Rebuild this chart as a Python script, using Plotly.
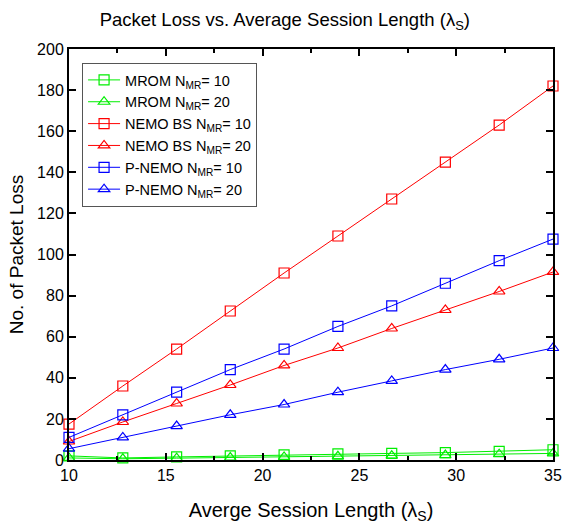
import plotly.graph_objects as go

x_vals = [10, 12.78, 15.56, 18.33, 21.11, 23.89, 26.67, 29.44, 32.22, 35]
mrom_10 = [2, 1, 1.5, 2, 2.5, 3, 3.2, 3.6, 4.2, 5]
mrom_20 = [1, 0.6, 0.9, 1.2, 1.5, 1.8, 2.1, 2.4, 2.8, 3.2]
nemo_10 = [17.5, 36, 54, 72.5, 91, 109, 127, 145, 163, 182]
nemo_20 = [9, 18.5, 27.5, 36.5, 46, 54.5, 64, 73, 82, 91.5]
pnemo_10 = [11, 22, 33, 44, 54, 65, 75, 86, 97, 107.5]
pnemo_20 = [5.5, 11, 16.5, 22, 27, 33, 38.5, 44, 49, 54.5]

series = [
    ("MROM N<sub>MR</sub>= 10", mrom_10, "#00ee00", "square-open"),
    ("MROM N<sub>MR</sub>= 20", mrom_20, "#00ee00", "triangle-up-open"),
    ("NEMO BS N<sub>MR</sub>= 10", nemo_10, "#ff0000", "square-open"),
    ("NEMO BS N<sub>MR</sub>= 20", nemo_20, "#ff0000", "triangle-up-open"),
    ("P-NEMO N<sub>MR</sub>= 10", pnemo_10, "#0000ff", "square-open"),
    ("P-NEMO N<sub>MR</sub>= 20", pnemo_20, "#0000ff", "triangle-up-open"),
]

fig = go.Figure()
for name, ys, color, sym in series:
    fig.add_trace(go.Scatter(
        x=x_vals, y=ys, name=name, mode="lines+markers",
        line=dict(color=color, width=1),
        marker=dict(symbol=sym, size=10, color=color, line=dict(width=1.2, color=color)),
        cliponaxis=False,
    ))

font = "Liberation Sans, Arial, sans-serif"
fig.update_layout(
    width=564, height=525,
    margin=dict(l=69, r=11, t=49, b=65),
    paper_bgcolor="white", plot_bgcolor="white",
    font=dict(family=font, color="black", size=16),
    title=dict(text="Packet Loss vs. Average Session Length (λ<sub>S</sub>)",
               x=0.505, xref="container", y=0.962, yanchor="middle",
               font=dict(size=18.5, family=font)),
    showlegend=True,
    legend=dict(x=0.027, y=0.966, xanchor="left", yanchor="top",
                bordercolor="#555555", borderwidth=1, bgcolor="white",
                font=dict(size=14.5, family=font), tracegroupgap=0,
                itemwidth=32),
)
fig.update_xaxes(
    range=[10, 35], tickvals=[10, 15, 20, 25, 30, 35],
    ticks="inside", ticklen=7, tickwidth=2, tickcolor="black",
    minor=dict(dtick=2.5, tick0=10, ticks="inside", ticklen=4, tickwidth=2, tickcolor="black"),
    showline=True, linecolor="black", linewidth=2, mirror="ticks",
    showgrid=False, zeroline=False, automargin=False,
    tickfont=dict(size=16, family=font),
    title=dict(text="Averge Session Length (λ<sub>S</sub>)", font=dict(size=20, family=font), standoff=20),
)
fig.update_yaxes(
    range=[0, 200], dtick=20,
    ticks="inside", ticklen=7, tickwidth=2, tickcolor="black",
    showline=True, linecolor="black", linewidth=2, mirror="ticks",
    showgrid=False, zeroline=False, automargin=False,
    tickfont=dict(size=16, family=font),
    title=dict(text="No. of Packet Loss", font=dict(size=19, family=font), standoff=8),
)

fig.write_html("out.html", config={"displayModeBar": False},
               post_script="document.body.style.margin='0';document.body.style.padding='0';")
